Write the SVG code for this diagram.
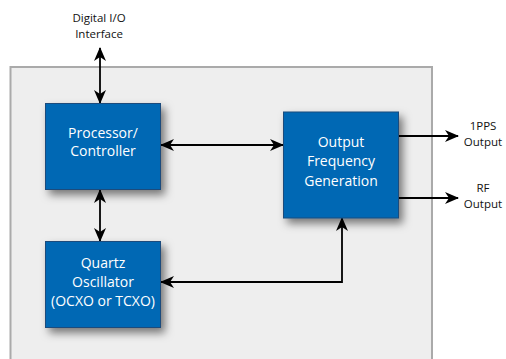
<svg xmlns="http://www.w3.org/2000/svg" width="506" height="359" viewBox="0 0 506 359">
<style>
.blk{fill:#0068b4;stroke:#1b4c7c;stroke-width:1}
.bt{font-family:"Open Sans","Liberation Sans",sans-serif;font-size:14px;fill:#ffffff;text-anchor:middle}
.lt{font-family:"Open Sans","Liberation Sans",sans-serif;font-size:11.5px;fill:#111111;text-anchor:middle}
.ln{fill:none;stroke:#000;stroke-width:1.8}
</style>
<defs>
<marker id="ah" viewBox="0 0 14 12" refX="13" refY="6" markerWidth="14" markerHeight="12" markerUnits="userSpaceOnUse" orient="auto-start-reverse">
<path d="M0,0 L14,6 L0,12 L4,6 Z" fill="#000"/>
</marker>
<filter id="sh" x="-20%" y="-20%" width="150%" height="150%">
<feDropShadow dx="4" dy="5" stdDeviation="4" flood-color="#000" flood-opacity="0.5"/>
</filter>
</defs>
<rect width="506" height="359" fill="#ffffff"/>
<g id="frame">
<rect x="10.5" y="67" width="421.5" height="300" fill="#eeeeee" stroke="#aaaaaa" stroke-width="2"/>
</g>
<g id="connectors">
<line class="ln" x1="100" y1="48" x2="100" y2="103" marker-start="url(#ah)" marker-end="url(#ah)"/>
<line class="ln" x1="161" y1="145" x2="283" y2="145" marker-start="url(#ah)" marker-end="url(#ah)"/>
<line class="ln" x1="100" y1="190" x2="100" y2="241" marker-start="url(#ah)" marker-end="url(#ah)"/>
<polyline class="ln" points="161,282 342,282 342,218" marker-start="url(#ah)" marker-end="url(#ah)"/>
<line class="ln" x1="398" y1="136" x2="458" y2="136" marker-end="url(#ah)"/>
<line class="ln" x1="398" y1="198" x2="458" y2="198" marker-end="url(#ah)"/>
</g>
<g id="processor">
<rect class="blk" x="45.5" y="103.5" width="115" height="86" filter="url(#sh)"/>
<text class="bt" x="103" y="138">Processor/</text>
<text class="bt" x="103" y="156">Controller</text>
</g>
<g id="quartz">
<rect class="blk" x="45.5" y="241.5" width="115" height="86" filter="url(#sh)"/>
<text class="bt" x="103" y="268">Quartz</text>
<text class="bt" x="103" y="287">Oscillator</text>
<text class="bt" x="103" y="306">(OCXO or TCXO)</text>
</g>
<g id="outputgen">
<rect class="blk" x="283.5" y="112" width="115" height="106" filter="url(#sh)"/>
<text class="bt" x="341" y="147">Output</text>
<text class="bt" x="341" y="166">Frequency</text>
<text class="bt" x="341" y="186">Generation</text>
</g>
<g id="digital-io">
<text class="lt" x="99" y="22">Digital I/O</text>
<text class="lt" x="99" y="38">Interface</text>
</g>
<g id="pps">
<text class="lt" x="483" y="130">1PPS</text>
<text class="lt" x="483" y="146">Output</text>
</g>
<g id="rf">
<text class="lt" x="483" y="192">RF</text>
<text class="lt" x="483" y="208">Output</text>
</g>
</svg>
